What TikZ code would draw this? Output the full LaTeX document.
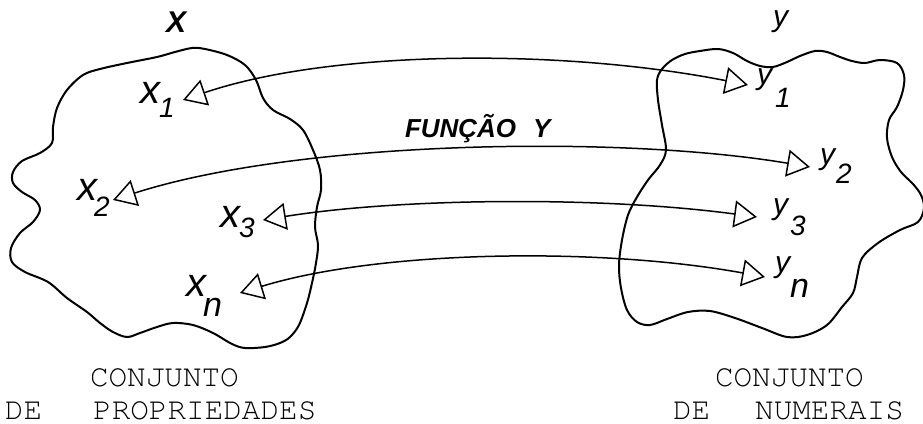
\documentclass[tikz,border=0pt]{standalone}
\usepackage[T1]{fontenc}
\usepackage{fontspec}
\usetikzlibrary{arrows.meta}
\newfontfamily\handfont{Liberation Sans}
% hand-lettered labels and typewritten captions
\newcommand\hand[1]{\handfont\itshape\fontsize{#1}{#1}\selectfont}
\newcommand\typefont[1]{\fontencoding{T1}\fontfamily{pcr}\fontsize{#1}{#1}\selectfont}
% letter with a lowered index: letter, size, index, size, kern, drop
\newcommand\idx[6]{{\hand{#2}#1}\kern#5\raisebox{-#6}{\hand{#4}#3}}
\begin{document}
\begin{tikzpicture}[x=1pt,y=-1pt,
  outline/.style={line width=2pt, line join=round},
  conn/.style={line width=1.5pt, {Triangle[open,length=23pt,width=27pt]}-{Triangle[open,length=23pt,width=27pt]}},
  lab/.style={anchor=base west, inner sep=0pt, outer sep=0pt}]
\useasboundingbox (0,0) rectangle (923,423);

% set of properties
\draw[outline] plot[smooth cycle, tension=0.55] coordinates {
  (53,127) (57,108) (67,90) (83,75) (100,69) (127,63) (157,57) (175,52)
  (192,48) (205,49) (227,55) (245,65) (256,80) (263,98) (273,110) (290,119)
  (303,130) (313,150) (320,170) (321,190) (317,207) (315,227) (318,245)
  (316,263) (312,283) (307,303) (299,325) (290,337) (280,343) (265,347)
  (245,348) (232,344) (213,333) (193,325) (173,323) (157,327) (140,333)
  (127,337) (113,332) (100,323) (87,312) (67,298) (48,282) (25,272)
  (12,262) (11,248) (20,233) (33,222) (40,210) (35,200) (22,192) (13,183)
  (13,172) (22,161) (40,153) (52,143)};

% set of numerals
\draw[outline] plot[smooth cycle, tension=0.55] coordinates {
  (657,80) (662,69) (672,60) (685,54) (700,51) (718,49) (733,53) (747,61)
  (760,66) (773,67) (787,62) (800,56) (815,51) (827,52) (840,57) (852,61)
  (865,63) (880,60) (897,63) (904,75) (903,90) (897,107) (889,120) (887,138)
  (892,157) (901,172) (913,184) (921,195) (924,208) (918,222) (900,230)
  (878,243) (862,258) (857,277) (853,293) (842,307) (827,325) (807,335)
  (787,337) (762,328) (735,318) (710,311) (688,312) (667,319) (650,325)
  (637,322) (627,310) (621,288) (619,265) (622,240) (628,215) (637,197)
  (648,180) (660,165) (666,150) (662,125) (658,100)};

% titles
\node[lab] (tX) at (166,32) {\hand{30}\bfseries X};
\node[lab] (tY) at (773,26) {\hand{30}y};
\node[lab] (fn) at (405,137) {\hand{26}\bfseries FUNÇÃO\hspace{17pt}Y};

% elements
\node[lab] (lx1) at (140,103) {\idx{x}{40}{1}{28}{-1pt}{14pt}};
\node[lab] (lx2) at (77,200)  {\idx{x}{40}{2}{28}{-3pt}{16pt}};
\node[lab] (lx3) at (220,227) {\idx{x}{40}{3}{28}{-1pt}{10pt}};
\node[lab] (lxn) at (186,296) {\idx{x}{40}{n}{34}{-3pt}{20pt}};
\node[lab] (ly1) at (757,84)  {\idx{y}{30}{1}{28}{3pt}{23pt}};
\node[lab] (ly2) at (820,164) {\idx{y}{30}{2}{28}{1pt}{19pt}};
\node[lab] (ly3) at (773,214) {\idx{y}{30}{3}{28}{2pt}{21pt}};
\node[lab] (lyn) at (775,272) {\idx{y}{30}{n}{34}{0pt}{25pt}};

% arrow ends
\coordinate (x1p) at (183,100);
\coordinate (x2p) at (113,200);
\coordinate (x3p) at (263,220);
\coordinate (xnp) at (240,293);
\coordinate (y1p) at (748,85);
\coordinate (y2p) at (810,167);
\coordinate (y3p) at (757,217);
\coordinate (ynp) at (765,277);

% correspondences
\draw[conn] (x1p) .. controls (330,50) and (560,48) .. (y1p);
\draw[conn] (x2p) .. controls (300,140) and (620,135) .. (y2p);
\draw[conn] (x3p) .. controls (400,198) and (600,196) .. (y3p);
\draw[conn] (xnp) .. controls (380,250) and (600,247) .. (ynp);

% captions
\node[lab] (c1) at (90,386)  {\typefont{31}CONJUNTO};
\node[lab] (d1) at (5,419)   {\typefont{31}DE\hspace{51pt}PROPRIEDADES};
\node[lab] (c2) at (715,386) {\typefont{31}CONJUNTO};
\node[lab] (d2) at (673,419) {\typefont{31}DE\hspace{45pt}NUMERAIS};
\end{tikzpicture}
\end{document}
